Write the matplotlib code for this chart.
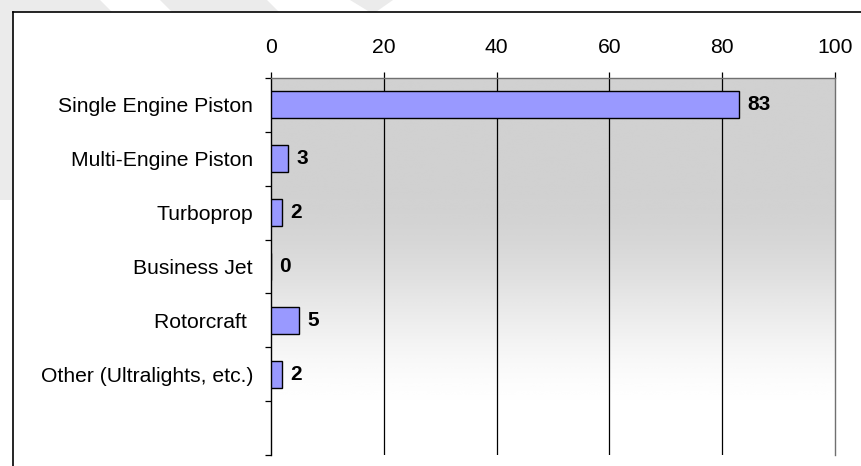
import numpy as np
import matplotlib
matplotlib.use("Agg")
import matplotlib.pyplot as plt
from matplotlib.patches import Polygon
from matplotlib.lines import Line2D

plt.rcParams['font.family'] = ['Liberation Sans', 'DejaVu Sans']

# data
categories = ["Single Engine Piston", "Multi-Engine Piston", "Turboprop",
              "Business Jet", "Rotorcraft ", "Other (Ultralights, etc.)"]
values = [83, 3, 2, 0, 5, 2]
x_ticks = [0, 20, 40, 60, 80, 100]

W, H = 862, 466
fig = plt.figure(figsize=(W / 100, H / 100), dpi=100)

# faint watermark shapes outside the chart frame (pixel coords, y down)
bg = fig.add_axes([0, 0, 1, 1], zorder=-10)
bg.set_xlim(0, W)
bg.set_ylim(H, 0)
bg.axis('off')
shapes = [
    [(0, -100), (100, 0), (300, 200), (0, 200)],
    [(160, 0), (267, 0), (290, 23), (183, 23)],
    [(350, 0), (393, 0), (373, 14)],
]
for pts in shapes:
    bg.add_patch(Polygon(pts, closed=True, facecolor='#ebebeb', edgecolor='none'))
# white chart area with black frame (left and top visible)
bg.add_patch(plt.Rectangle((13, 12), W, H, facecolor='white', edgecolor='none'))
bg.add_line(Line2D([13, 861], [12, 12], color='black', lw=1.2))
bg.add_line(Line2D([13, 13], [12, H], color='black', lw=1.2))

# plot area
left, right, top, bottom = 271, 835, 78, 455
ax = fig.add_axes([left / W, (H - bottom) / H, (right - left) / W, (bottom - top) / H])

n_slots = 7
ax.set_xlim(0, 100)
ax.set_ylim(n_slots - 0.5, -0.5)

# vertical gradient: grey on top fading to white at the bottom
t = np.linspace(0, 1, 256)
s = np.clip((t - 0.3) / 0.6, 0, 1)
s = s * s * (3 - 2 * s)
shade = 0.82 + (1.0 - 0.82) * s
grad = np.repeat(shade[:, None], 2, axis=1)
ax.imshow(grad, cmap='gray', vmin=0, vmax=1, aspect='auto',
          extent=[0, 100, n_slots - 0.5, -0.5], zorder=0, interpolation='bicubic')

for xv in x_ticks[1:-1]:
    ax.axvline(xv, color='black', lw=0.9, zorder=1)

ypos = np.arange(len(categories))
ax.barh(ypos, values, height=0.5, color='#9999ff', edgecolor='black', lw=1.0, zorder=3)
for y, v in zip(ypos, values):
    ax.text(v + 1.5, y, str(v), va='center', ha='left', fontsize=15,
            fontweight='bold', zorder=4)

# x axis on top
ax.xaxis.tick_top()
ax.set_xticks(x_ticks)
ax.set_xticklabels([str(v) for v in x_ticks])
ax.tick_params(axis='x', length=4, width=0.9, pad=11, labelsize=15.2, color='black')

# y: labels at slot centres, ticks at slot boundaries
ax.set_yticks(ypos)
ax.set_yticklabels(categories)
ax.set_yticks(np.arange(-0.5, n_slots, 1), minor=True)
ax.tick_params(axis='y', which='major', length=0, pad=13, labelsize=15.2)
ax.tick_params(axis='y', which='minor', length=4.5, width=0.9, color='black')

ax.spines['left'].set_color('black')
ax.spines['left'].set_linewidth(1.0)
ax.spines['bottom'].set_visible(False)
for sp in ('top', 'right'):
    ax.spines[sp].set_color('#707070')
    ax.spines[sp].set_linewidth(1.0)

fig.savefig("out.png", dpi=100)
